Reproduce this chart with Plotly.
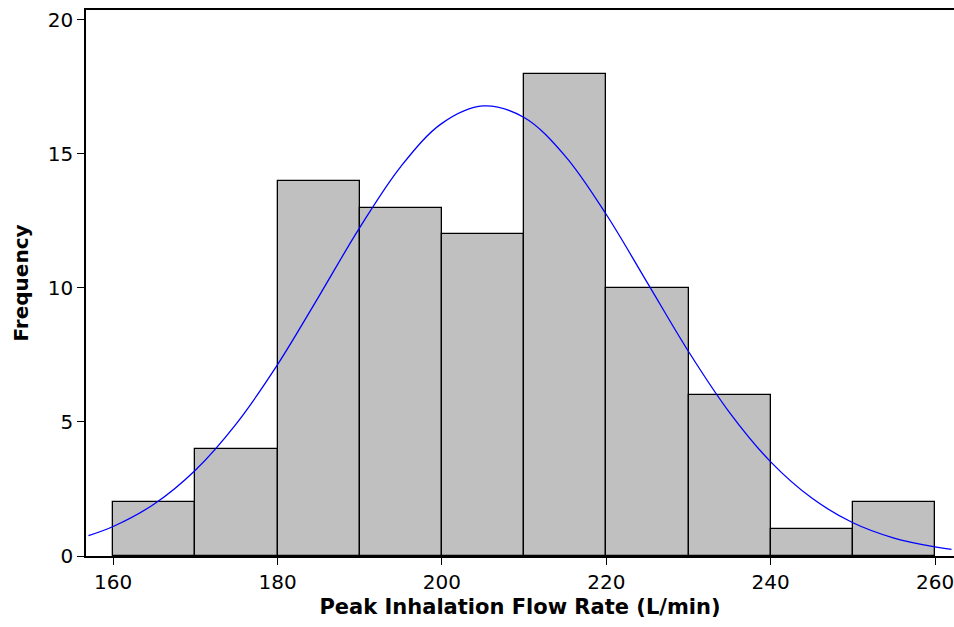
import plotly.graph_objects as go

# Histogram bins (left edges) and counts
bin_starts = [160, 170, 180, 190, 200, 210, 220, 230, 240, 250]
bin_width = 10
counts = [2, 4, 14, 13, 12, 18, 10, 6, 1, 2]

# Fitted normal curve
curve_x = [157, 160, 165, 170, 175, 180, 185, 190, 195, 200, 205, 210, 215,
           220, 225, 230, 235, 240, 245, 250, 255, 260, 262]
curve_y = [0.76, 1.10, 1.94, 3.20, 4.94, 7.14, 9.67, 12.25, 14.53, 16.14, 16.79,
           16.36, 14.92, 12.74, 10.19, 7.63, 5.35, 3.51, 2.16, 1.24, 0.67, 0.34, 0.25]

x_ticks = [160, 180, 200, 220, 240, 260]
y_ticks = [0, 5, 10, 15, 20]

FONT = "DejaVu Sans"

fig = go.Figure()
fig.add_trace(go.Bar(
    x=bin_starts, y=counts, width=[bin_width] * len(counts), offset=0,
    marker=dict(color="#C0C0C0", line=dict(color="black", width=1.3)),
    showlegend=False, hoverinfo="x+y",
))
fig.add_trace(go.Scatter(
    x=curve_x, y=curve_y, mode="lines",
    line=dict(color="#0000FF", width=1.3, shape="spline"),
    showlegend=False,
))

fig.update_layout(
    width=954, height=627,
    margin=dict(l=86, r=0, t=10, b=71),
    paper_bgcolor="white", plot_bgcolor="white",
    bargap=0,
    font=dict(family=FONT, color="black", size=20),
    xaxis=dict(
        range=[156.7, 262.3], tickvals=x_ticks, ticks="outside", ticklen=7,
        tickcolor="black", tickwidth=1.3, showgrid=False, zeroline=False,
        showline=True, linecolor="black", linewidth=1.5, mirror=True,
        automargin=False, ticklabeloverflow="allow",
        tickfont=dict(family=FONT, size=20),
        title=dict(text="<b>Peak Inhalation Flow Rate (L/min)</b>",
                   font=dict(family=FONT, size=21), standoff=7),
    ),
    yaxis=dict(
        range=[0, 20.37], tickvals=y_ticks, ticks="outside", ticklen=7,
        tickcolor="black", tickwidth=1.3, showgrid=False, zeroline=False,
        showline=True, linecolor="black", linewidth=1.5,
        automargin=False,
        tickfont=dict(family=FONT, size=20),
        title=dict(text="<b>Frequency</b>", font=dict(family=FONT, size=20),
                   standoff=14),
    ),
)

fig.write_html("out.html", config={"displayModeBar": False},
               post_script="document.body.style.margin='0';")
